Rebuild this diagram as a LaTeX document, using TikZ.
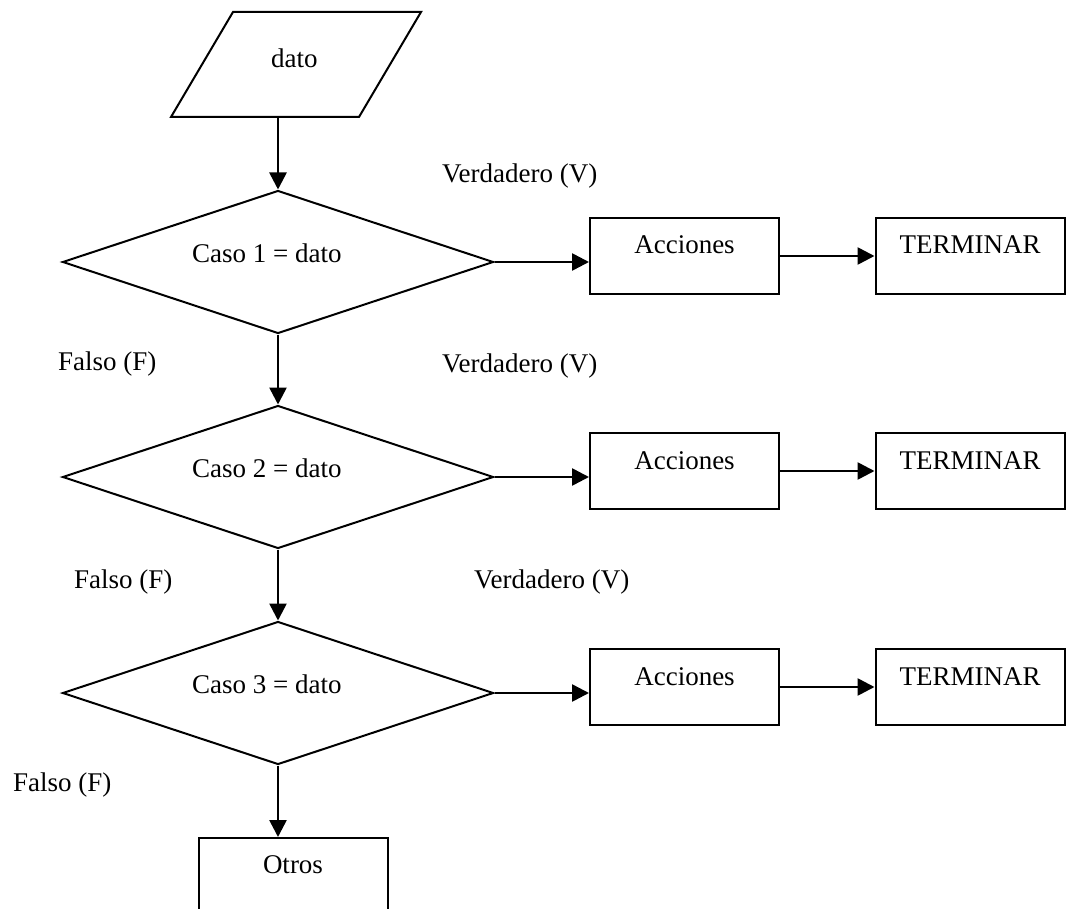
\documentclass[tikz,border=0pt]{standalone}
\usepackage{fontspec}
\setmainfont{Liberation Serif}
\usetikzlibrary{shapes.geometric,arrows.meta}
\begin{document}
\begin{tikzpicture}[x=1pt,y=-1pt,
  every node/.style={font=\fontsize{27}{32}\selectfont},
  flow/.style={line width=2.6pt, -{Triangle[length=17pt,width=17pt]}},
  decision/.style={draw, line width=2pt, diamond, minimum width=431pt, minimum height=143pt, inner sep=0pt},
  box/.style={draw, line width=2pt, rectangle, minimum width=189pt, inner xsep=0pt, inner ysep=0pt, text height=36pt, text depth=40pt},
  outline/.style={line width=2pt, line join=miter},
  lbl/.style={anchor=base west, inner sep=0pt}]
\useasboundingbox (0,0) rectangle (1067,909);
\clip (0,0) rectangle (1067,909);

% input (parallelogram)
\coordinate (inbl) at (171,117);
\coordinate (intl) at (233,12);
\coordinate (intr) at (421,12);
\coordinate (inbr) at (359,117);
\draw[outline] (inbl) -- (intl) -- (intr) -- (inbr) -- cycle;
\coordinate (in) at (278,117);
\node[lbl] (tin) at (271,68) {dato};

% decisions
\node[decision] (d1) at (278,262) {};
\node[decision] (d2) at (278,477) {};
\node[decision] (d3) at (278,693) {};
\node[lbl] (t1) at (192,262) {Caso 1 = dato};
\node[lbl] (t2) at (192,477) {Caso 2 = dato};
\node[lbl] (t3) at (192,693) {Caso 3 = dato};

% actions and ends
\node[box] (a1) at (684.5,256) {Acciones};
\node[box] (e1) at (970,256) {TERMINAR};
\node[box] (a2) at (684.5,471) {Acciones};
\node[box] (e2) at (970,471) {TERMINAR};
\node[box] (a3) at (684.5,687) {Acciones};
\node[box] (e3) at (970,687) {TERMINAR};

% default branch
\node[box, text height=35pt, text depth=41pt] (o) at (293,876) {Otros};

% branch labels
\node[lbl] (v1) at (442,183) {Verdadero (V)};
\node[lbl] (v2) at (442,372) {Verdadero (V)};
\node[lbl] (v3) at (474,588) {Verdadero (V)};
\node[lbl] (f1) at (58,370) {Falso (F)};
\node[lbl] (f2) at (74,588) {Falso (F)};
\node[lbl] (f3) at (13,791) {Falso (F)};

% connectors
\draw[flow] (in) -- (d1.north);
\draw[flow] (d1.south) -- (d2.north);
\draw[flow] (d2.south) -- (d3.north);
\draw[flow] (d3.south) -- (d3.south |- o.north);

\draw[flow] (d1.east) -- (d1.east -| a1.west);
\draw[flow] (d2.east) -- (d2.east -| a2.west);
\draw[flow] (d3.east) -- (d3.east -| a3.west);

\draw[flow] (a1.east) -- (e1.west);
\draw[flow] (a2.east) -- (e2.west);
\draw[flow] (a3.east) -- (e3.west);
\end{tikzpicture}
\end{document}
